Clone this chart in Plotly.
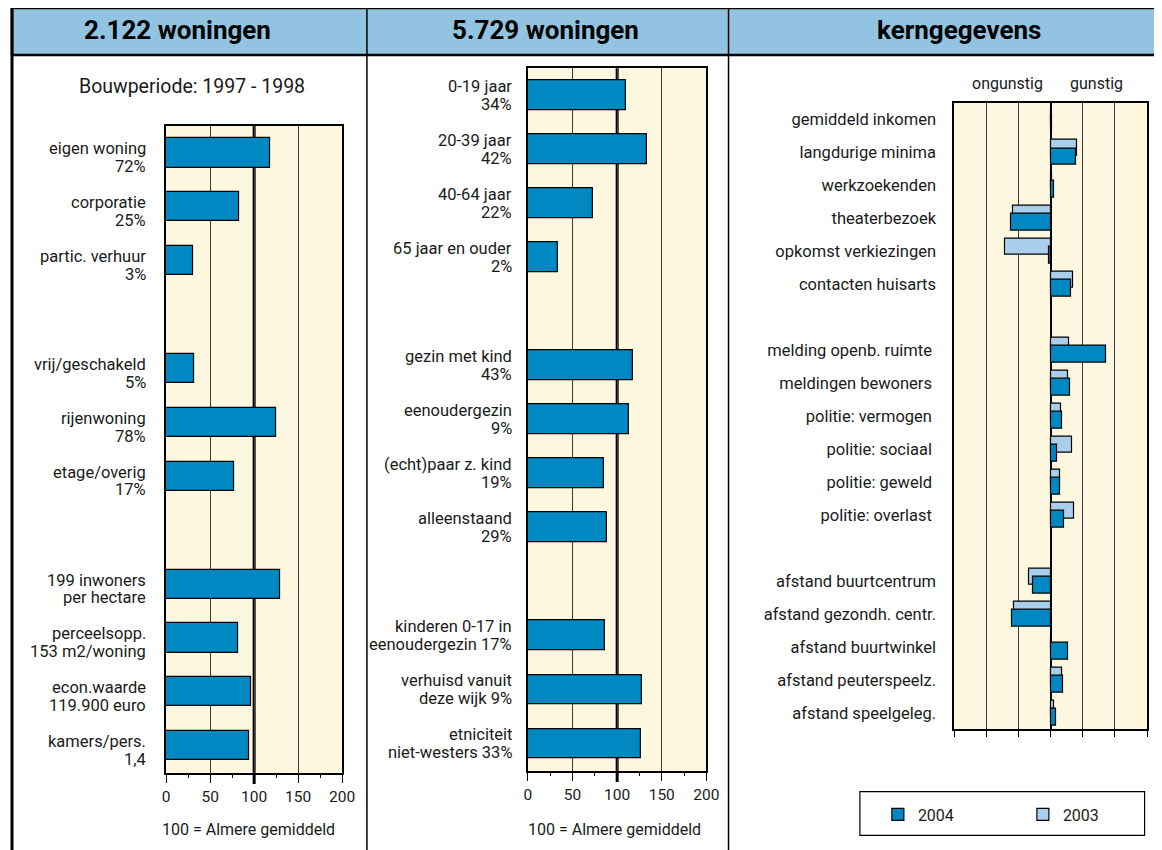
import plotly.graph_objects as go

W, H = 1162, 850
OFF_X, OFF_Y = 10.2, 8      # where the figure's corner lands in the rendered page
SX = W / (W + 16)           # horizontal shrink observed in the rendered page


def px(x):
    return max((x - OFF_X) / SX, 0) / W


def py(y):
    return 1 - (y - OFF_Y) / H


# ---------------- data ----------------
left_categories = [
    "eigen woning<br>72%", "corporatie<br>25%", "partic. verhuur<br>3%", " ",
    "vrij/geschakeld<br>5%", "rijenwoning<br>78%", "etage/overig<br>17%", "  ",
    "199 inwoners<br>per hectare", "perceelsopp.<br>153 m2/woning",
    "econ.waarde<br>119.900 euro", "kamers/pers.<br>1,4",
]
left_values = [118, 83, 31, None, 32, 125, 77, None, 130, 82, 97, 94]

mid_categories = [
    "0-19 jaar<br>34%", "20-39 jaar<br>42%", "40-64 jaar<br>22%", "65 jaar en ouder<br>2%", " ",
    "gezin met kind<br>43%", "eenoudergezin<br>9%", "(echt)paar z. kind<br>19%", "alleenstaand<br>29%", "  ",
    "kinderen 0-17 in<br>eenoudergezin 17%", "verhuisd vanuit<br>deze wijk 9%",
    "etniciteit<br>niet-westers 33%",
]
mid_values = [110, 133, 73, 34, None, 118, 113, 85, 88, None, 86, 128, 127]

right_categories = [
    "gemiddeld inkomen", "langdurige minima", "werkzoekenden", "theaterbezoek",
    "opkomst verkiezingen", "contacten huisarts", " ",
    "melding openb. ruimte\u00a0", "meldingen bewoners\u00a0", "politie: vermogen\u00a0",
    "politie: sociaal\u00a0", "politie: geweld\u00a0", "politie: overlast\u00a0", "  ",
    "afstand buurtcentrum", "afstand gezondh. centr.", "afstand buurtwinkel",
    "afstand peuterspeelz.", "afstand speelgeleg.",
]
values_2004 = [0.04, 0.78, 0.10, -1.22, -0.05, 0.63, None,
               1.73, 0.60, 0.35, 0.20, 0.31, 0.42, None,
               -0.55, -1.20, 0.53, 0.38, 0.18]
values_2003 = [0.03, 0.83, 0.05, -1.17, -1.42, 0.69, None,
               0.58, 0.53, 0.33, 0.67, 0.28, 0.72, None,
               -0.67, -1.12, 0.0, 0.37, 0.10]

x_ticks = [0, 50, 100, 150, 200]
header_titles = ["2.122 woningen", "5.729 woningen", "kerngegevens"]
subtitle = "Bouwperiode: 1997 - 1998"
axis_note = "100 = Almere gemiddeld"
direction_labels = ["ongunstig", "gunstig"]
series_names = ["2003", "2004"]

# ---------------- style ----------------
DARK = "#0088C2"
LIGHT = "#A9CFEA"
CREAM = "#FEF7E0"
HEADER = "#92C4E1"
GRID = "#3a3a3a"
FONT = "Roboto"
TXT = "#1a1a1a"
LBL = 16.5

fig = go.Figure()

fig.add_trace(go.Bar(
    y=left_categories, x=left_values, orientation="h", xaxis="x", yaxis="y",
    width=0.54, marker=dict(color=DARK, line=dict(color="black", width=1.2)),
    showlegend=False, hoverinfo="x+y",
))
fig.add_trace(go.Bar(
    y=mid_categories, x=mid_values, orientation="h", xaxis="x2", yaxis="y2",
    width=0.55, marker=dict(color=DARK, line=dict(color="black", width=1.2)),
    showlegend=False, hoverinfo="x+y",
))
fig.add_trace(go.Bar(
    y=right_categories, x=values_2003, orientation="h", xaxis="x3", yaxis="y3",
    name=series_names[0], width=0.5, offset=-0.38,
    marker=dict(color=LIGHT, line=dict(color="black", width=1.2)),
))
fig.add_trace(go.Bar(
    y=right_categories, x=values_2004, orientation="h", xaxis="x3", yaxis="y3",
    name=series_names[1], width=0.5, offset=-0.12,
    marker=dict(color=DARK, line=dict(color="black", width=1.2)),
))


def xaxis_cfg(x0, x1, y_anchor):
    return dict(
        domain=[px(x0), px(x1)], anchor=y_anchor, range=[0, 200],
        tickvals=x_ticks, showgrid=True, gridcolor=GRID, gridwidth=1,
        showline=True, mirror=True, linecolor="black", linewidth=1.5,
        ticks="outside", ticklen=9, tickcolor="black", tickwidth=1.2,
        minor=dict(dtick=25, ticks="outside", ticklen=4, tickcolor="black", showgrid=False),
        tickfont=dict(family=FONT, size=15.5, color=TXT), zeroline=False,
        fixedrange=True,
    )


def yaxis_cfg(y0, y1, x_anchor, cats, labels=False):
    return dict(
        domain=[py(y1), py(y0)], anchor=x_anchor, type="category",
        categoryorder="array", categoryarray=cats, range=[len(cats) - 0.5, -0.5],
        showline=True, mirror=True, linecolor="black", linewidth=1.5,
        ticks="", showgrid=False, showticklabels=labels,
        tickfont=dict(family=FONT, size=LBL, color=TXT), ticklabelstandoff=13,
        fixedrange=True,
    )


right_x = dict(
    domain=[px(953.3), px(1146.5)], anchor="y3", range=[-3, 3], dtick=1,
    showticklabels=False, showgrid=True, gridcolor=GRID, gridwidth=1,
    showline=True, mirror=True, linecolor="black", linewidth=1.5,
    ticks="outside", ticklen=6, tickcolor="black", tickwidth=1.2,
    zeroline=True, zerolinecolor="black", zerolinewidth=2, fixedrange=True,
)

fig.update_layout(
    width=W, height=H, margin=dict(l=0, r=0, t=0, b=0),
    paper_bgcolor="white", plot_bgcolor=CREAM,
    barmode="overlay", bargap=0,
    font=dict(family=FONT, size=15, color=TXT),
    xaxis=xaxis_cfg(164.5, 340.7, "y"),
    yaxis=yaxis_cfg(126, 772.7, "x", left_categories),
    xaxis2=xaxis_cfg(526.7, 705.3, "y2"),
    yaxis2=yaxis_cfg(68.3, 770.7, "x2", mid_categories),
    xaxis3=right_x,
    yaxis3=yaxis_cfg(102.7, 729.3, "x3", right_categories, labels=True),
    showlegend=True,
    legend=dict(
        orientation="h", x=px(877), xanchor="left", y=py(814.5), yanchor="middle",
        bgcolor="rgba(0,0,0,0)", borderwidth=0, traceorder="reversed",
        font=dict(family=FONT, size=16, color=TXT),
        entrywidth=100, entrywidthmode="pixels",
    ),
)

shapes = []
# header band
shapes.append(dict(type="rect", xref="paper", yref="paper", x0=0, x1=1.02,
                   y0=py(55), y1=py(8), fillcolor=HEADER, line=dict(color="black", width=2.5),
                   layer="above"))
# frame lines
shapes.append(dict(type="line", xref="paper", yref="paper", x0=0, x1=0,
                   y0=py(860), y1=py(8), line=dict(color="black", width=3)))
for xv in (365.5, 727.5):
    shapes.append(dict(type="line", xref="paper", yref="paper", x0=px(xv), x1=px(xv),
                       y0=py(860), y1=py(8), line=dict(color="black", width=1.5)))
# 100 = average reference lines
for xr, yr, ybot, ytop in (("x", "y", 784, 772.7), ("x2", "y2", 782, 770.7)):
    shapes.append(dict(type="line", xref=xr, yref=yr + " domain", x0=100, x1=100,
                       y0=0, y1=1, line=dict(color="black", width=3), layer="below"))
    shapes.append(dict(type="line", xref=xr, yref="paper", x0=100, x1=100,
                       y0=py(ybot), y1=py(ytop), line=dict(color="black", width=3)))
# legend box
shapes.append(dict(type="rect", xref="paper", yref="paper", x0=px(859), x1=px(1144),
                   y0=py(835.3), y1=py(791.7), line=dict(color="black", width=1.2)))
fig.update_layout(shapes=shapes)

ann = []
for title, cx in zip(header_titles, (176, 544, 958)):
    ann.append(dict(text="<b>%s</b>" % title, x=px(cx), y=py(30), xref="paper", yref="paper",
                    showarrow=False, xanchor="center", yanchor="middle",
                    font=dict(family=FONT, size=26, color="black")))
ann.append(dict(text=subtitle, x=px(190.5), y=py(87), xref="paper",
                yref="paper", showarrow=False, xanchor="center", yanchor="middle",
                font=dict(family=FONT, size=19.5, color=TXT)))
for cx in (247, 613):
    ann.append(dict(text=axis_note, x=px(cx), y=py(829.5), xref="paper",
                    yref="paper", showarrow=False, xanchor="center", yanchor="middle",
                    font=dict(family=FONT, size=16, color=TXT)))
for lbl, cx in zip(direction_labels, (1007, 1095.7)):
    ann.append(dict(text=lbl, x=px(cx), y=py(83.5), xref="paper", yref="paper",
                    showarrow=False, xanchor="center", yanchor="middle",
                    font=dict(family=FONT, size=16, color=TXT)))

# two-line category labels, tied to the category axes
for cats, vals, yref, xr, shifts in (
    (left_categories, left_values, "y", 146, (4.0, -13.7)),
    (mid_categories, mid_values, "y2", 513, (8.7, -9.0)),
):
    for cat, val in zip(cats, vals):
        if val is None:
            continue
        for line, ys in zip(cat.split("<br>"), shifts):
            ann.append(dict(text=line, x=px(xr), y=cat, xref="paper", yref=yref,
                            yshift=ys, showarrow=False, xanchor="right", yanchor="middle",
                            font=dict(family=FONT, size=LBL, color=TXT)))
fig.update_layout(annotations=ann)

fig.write_html("out.html")
